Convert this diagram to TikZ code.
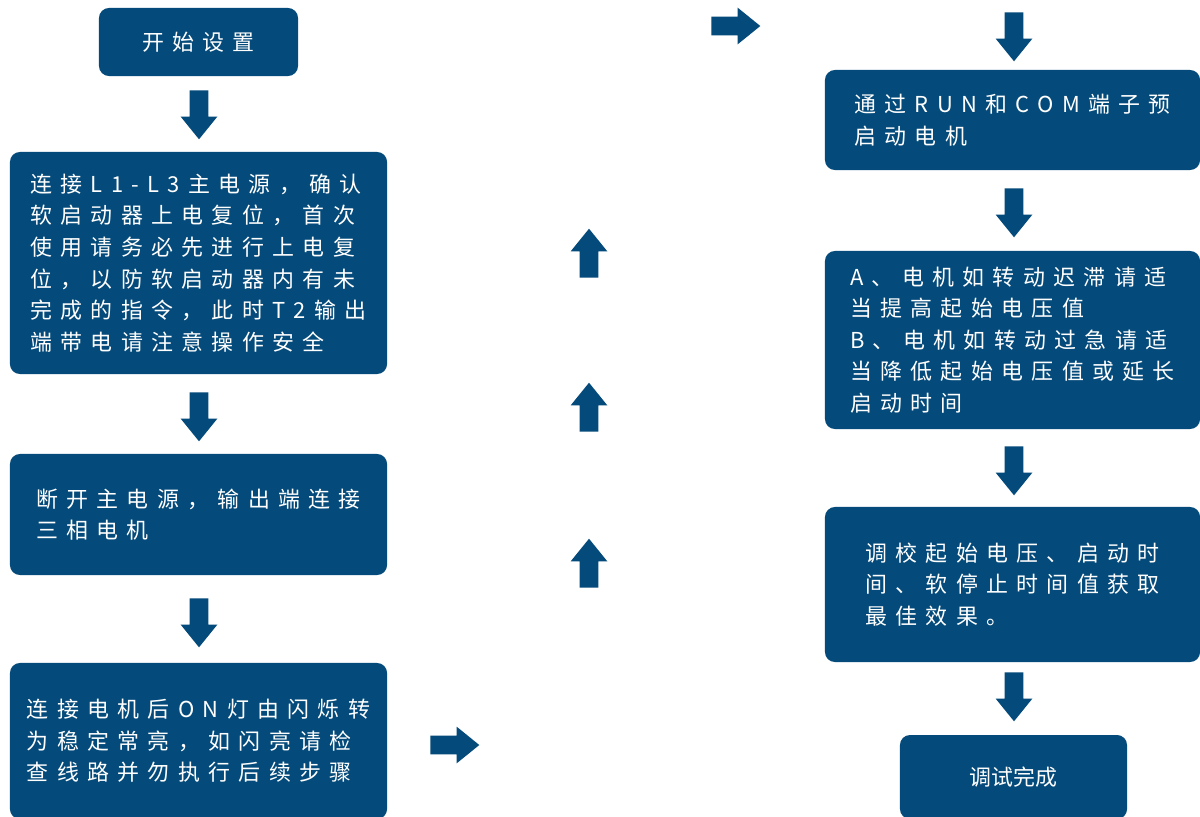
\documentclass[tikz,border=0pt]{standalone}
\usepackage{fontspec}
\usepackage{xcolor}
\usetikzlibrary{shapes.arrows}
\newfontfamily\cjk[LetterSpace=38]{Noto Sans CJK SC}
\newfontfamily\cjkplain{Noto Sans CJK SC}
\definecolor{boxblue}{HTML}{044A7A}
\tikzset{
  box/.style={rectangle,rounded corners=0.25cm,fill=boxblue,text=white,align=left,
    inner sep=0pt,font=\cjk\fontsize{15.6pt}{22.5pt}\selectfont},
  blockarrow/.style={single arrow,fill=boxblue,anchor=tail,minimum width=0.9cm,
    minimum height=1.225cm,single arrow head extend=0.225cm,single arrow tip angle=78},
  downarrow/.style={blockarrow,inner xsep=0.225cm,inner ysep=0pt,shape border rotate=270},
  uparrow/.style={blockarrow,inner xsep=0.225cm,inner ysep=0pt,shape border rotate=90},
  rightarrow/.style={blockarrow,inner xsep=0pt,inner ysep=0.225cm,shape border rotate=0}
}
\begin{document}
\begin{tikzpicture}[x=0.025cm,y=-0.025cm]
\clip (0,0) rectangle (1200,816);
\node (start) at (198.5,42) [box,minimum width=4.975cm,minimum height=1.7cm] {开始设置};
\node (power) at (198.5,263) [box,minimum width=9.425cm,minimum height=5.55cm]
  {连接L1-L3主电源，确认\\软启动器上电复位，首次\\使用请务必先进行上电复\\位，以防软启动器内有未\\完成的指令，此时T2输出\\端带电请注意操作安全};
\node (motor) at (198.5,514.5) [box,minimum width=9.425cm,minimum height=3.025cm]
  {断开主电源，输出端连接\\三相电机};
\node (onlamp) at (198.5,741) [box,minimum width=9.425cm,minimum height=3.9cm]
  {连接电机后ON灯由闪烁转\\为稳定常亮，如闪亮请检\\查线路并勿执行后续步骤};
\node (prestart) at (1012.5,120) [box,minimum width=9.375cm,minimum height=2.5cm]
  {通过RUN和COM端子预\\启动电机};
\node (adjust) at (1012.5,340) [box,minimum width=9.375cm,minimum height=4.45cm]
  {A、电机如转动迟滞请适\\当提高起始电压值\\B、电机如转动过急请适\\当降低起始电压值或延长\\启动时间};
\node (tune) at (1012.5,584.5) [box,minimum width=9.375cm,minimum height=3.875cm]
  {调校起始电压、启动时\\间、软停止时间值获取\\最佳效果。};
\node (done) at (1013.5,777) [box,minimum width=5.675cm,minimum height=2.1cm,
  font=\cjkplain\fontsize{15.6pt}{22.5pt}\selectfont] {调试完成};
\node (down1) at (199,90) [downarrow] {};
\node (down2) at (199,392) [downarrow] {};
\node (down3) at (199,598) [downarrow] {};
\node (right1) at (430,745) [rightarrow] {};
\node (up1) at (589,278) [uparrow] {};
\node (up2) at (589,432) [uparrow] {};
\node (up3) at (589,588) [uparrow] {};
\node (right2) at (711,26) [rightarrow] {};
\node (down4) at (1014,12) [downarrow] {};
\node (down5) at (1014,188) [downarrow] {};
\node (down6) at (1014,446) [downarrow] {};
\node (down7) at (1014,672) [downarrow] {};
\end{tikzpicture}
\end{document}
